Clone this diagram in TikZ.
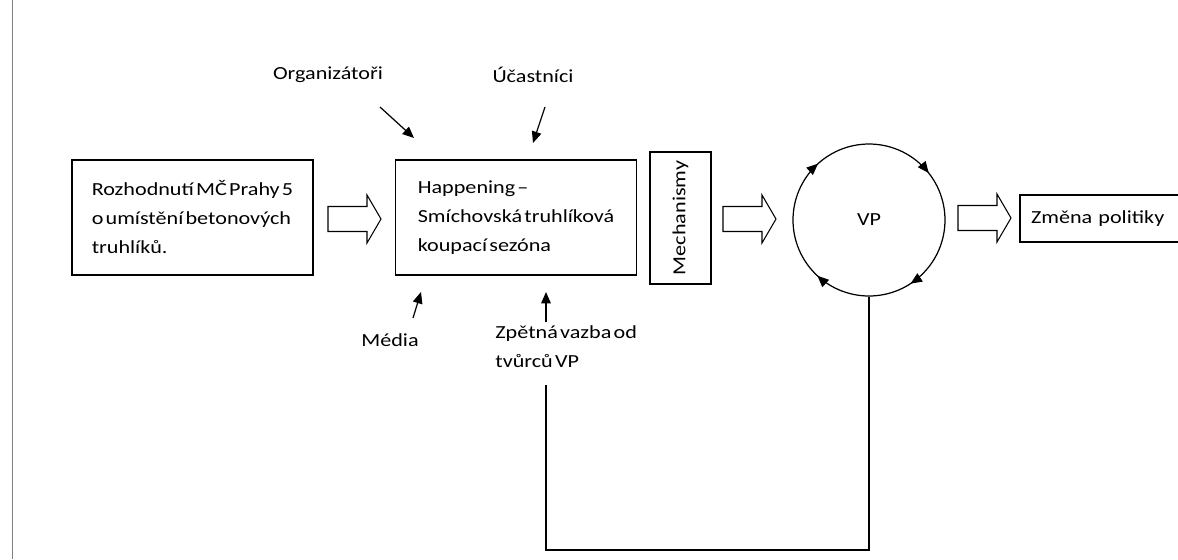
\documentclass[tikz,border=0pt]{standalone}
\usepackage{fontspec}
\setmainfont{Carlito}[FakeStretch=1.2, WordSpace=0.45]
\usetikzlibrary{arrows.meta,decorations.markings}
\tikzset{
  caja/.style={draw, line width=0.7pt, inner sep=0pt, align=left,
    font=\fontsize{10.5}{16.5}\selectfont},
  rotulo/.style={inner sep=0pt, align=left, font=\fontsize{10.5}{16.5}\selectfont},
  flecha/.style={line width=0.7pt, -{Triangle[length=6.5pt,width=5.5pt]}},
  bloque/.pic={\draw[line width=0.6pt] (0,-12.5) -- (39,-12.5) -- (39,-24) -- (53,0)
    -- (39,24) -- (39,12.5) -- (0,12.5) -- cycle;},
  vuelta/.style={decoration={markings,
    mark=at position 0.106 with {\arrowreversed{Triangle[length=6.5pt,width=5.5pt]}},
    mark=at position 0.367 with {\arrowreversed{Triangle[length=6.5pt,width=5.5pt]}},
    mark=at position 0.631 with {\arrowreversed{Triangle[length=6.5pt,width=5.5pt]}},
    mark=at position 0.842 with {\arrowreversed{Triangle[length=6.5pt,width=5.5pt]}}},
    postaction={decorate}}
}
\begin{document}
\begin{tikzpicture}[x=0.02cm,y=-0.02cm]
    \useasboundingbox (0,0) rectangle (1178,559);
    % Linea de margen
    \draw[gray, line width=0.5pt] (12,0) -- (12,559);
    % Cajas
    \node[caja, minimum width=4.82cm, minimum height=2.3cm] (rozhodnuti) at (192.5,217.5)
        {Rozhodnutí MČ Prahy 5\\o umístění betonových\\truhlíků.};
    \node[caja, minimum width=4.82cm, minimum height=2.3cm] (happening) at (516,217.5)
        {Happening –\\Smíchovská truhlíková\\koupací sezóna};
    \node[caja, rotate=90, minimum width=2.64cm, minimum height=1.22cm]
        (mechanismy) at (680.5,218) {Mechanismy};
    \node[draw, circle, line width=0.7pt, minimum size=3.04cm, inner sep=0pt, vuelta,
        font=\fontsize{10.5}{16.5}\selectfont] (vp) at (869,220) {VP};
    \node[caja, inner xsep=0.22cm, text width=2.96cm, minimum height=0.94cm] (zmena)
        at (1105,218.5) {Změna politiky};
    % Flechas gruesas
    \pic at (328,219) {bloque};
    \pic at (723,219) {bloque};
    \pic at (958,218) {bloque};
    % Actores
    \node[rotulo] (organizatori) at (328,75) {Organizátoři};
    \node[rotulo] (ucastnici) at (533,75) {Účastníci};
    \node[rotulo] (media) at (390,340) {Média};
    \node[rotulo, anchor=west] (zpetna) at (495,347) {Zpětná vazba od\\tvůrců VP};
    \coordinate (orgA) at (380,107);
    \coordinate (orgB) at (414,138);
    \coordinate (ucaA) at (545,107);
    \coordinate (ucaB) at (533,143);
    \coordinate (medA) at (413,318);
    \coordinate (medB) at (421,292);
    \coordinate (zpeA) at (546,322);
    \coordinate (zpeB) at (546,292);
    \draw[flecha] (orgA) -- (orgB);
    \draw[flecha] (ucaA) -- (ucaB);
    \draw[flecha] (medA) -- (medB);
    \draw[flecha] (zpeA) -- (zpeB);
    % Retroalimentacion
    \coordinate (roh) at (546,550);
    \coordinate (konec) at (546,385);
    \draw[line width=0.8pt] (vp.south) |- (roh) -- (konec);
\end{tikzpicture}
\end{document}
